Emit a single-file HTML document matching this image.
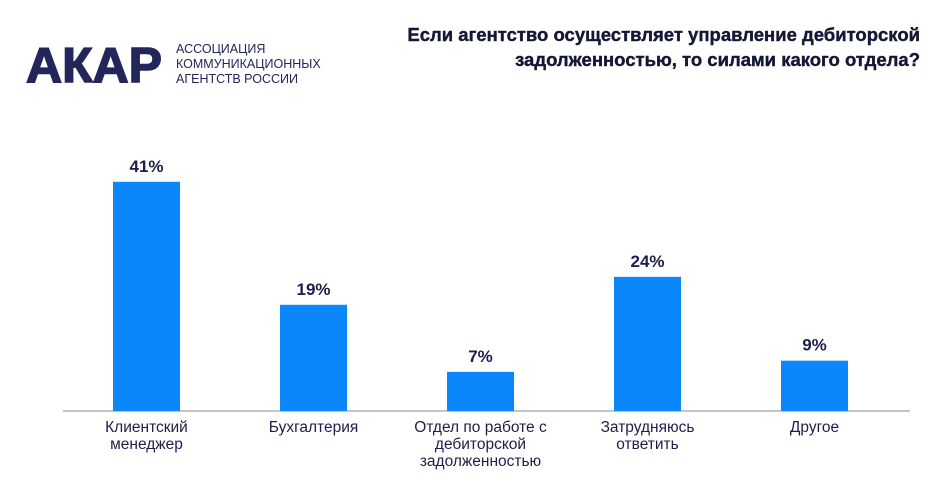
<!DOCTYPE html>
<html><head><meta charset="utf-8"><style>
body{margin:0;width:938px;height:482px;background:#fff;overflow:hidden;font-family:"Liberation Sans","DejaVu Sans",sans-serif;color:#1c1f4a}
svg{position:absolute;left:0;top:0}
</style></head><body>
<svg width="938" height="482">
<g>
<text x="26" y="82" font-size="49" font-weight="bold" fill="#23265a" stroke="#23265a" stroke-width="1.5" textLength="136" lengthAdjust="spacingAndGlyphs">АКАР</text>
<text x="176" y="53" font-size="12.5" fill="#23265a">АССОЦИАЦИЯ</text>
<text x="176" y="68" font-size="12.5" fill="#23265a">КОММУНИКАЦИОННЫХ</text>
<text x="176" y="83" font-size="12.5" fill="#23265a">АГЕНТСТВ РОССИИ</text>
</g>
<text x="920" y="41" font-size="18.5" font-weight="bold" text-anchor="end" fill="#141735" stroke="#141735" stroke-width="0.4">Если агентство осуществляет управление дебиторской</text>
<text x="920" y="66" font-size="18.5" font-weight="bold" text-anchor="end" fill="#141735" stroke="#141735" stroke-width="0.4">задолженностью, то силами какого отдела?</text>
<line x1="63" y1="411" x2="910" y2="411" stroke="#b0b0b8" stroke-width="1.5"/>
<g id="bars"></g>
</svg>
<script>
const categories=[["Клиентский","менеджер"],["Бухгалтерия"],["Отдел по работе с","дебиторской","задолженностью"],["Затрудняюсь","ответить"],["Другое"]];
const values=[41,19,7,24,9];
const valueLabels=["41%","19%","7%","24%","9%"];
const base=411, pxPer=5.59, x0=146.5, step=167, bw=67;
function xc(i){return x0+i*step;}
function y(v){return base-v*pxPer;}
const g=document.getElementById('bars');
const NS="http://www.w3.org/2000/svg";
values.forEach((v,i)=>{
  const r=document.createElementNS(NS,'rect');
  r.setAttribute('x',xc(i)-bw/2);r.setAttribute('y',y(v));
  r.setAttribute('width',bw);r.setAttribute('height',base-y(v));
  r.setAttribute('fill','#0a88fb');
  
  
  g.appendChild(r);
  const t=document.createElementNS(NS,'text');
  t.setAttribute('x',xc(i));t.setAttribute('y',y(v)-10);
  t.setAttribute('text-anchor','middle');t.setAttribute('font-size','17');
  t.setAttribute('font-weight','bold');t.setAttribute('fill','#1c1f4a');
  t.textContent=valueLabels[i];
  
  
  g.appendChild(t);
  categories[i].forEach((line,j)=>{
    const c=document.createElementNS(NS,'text');
    c.setAttribute('x',xc(i));c.setAttribute('y',432+j*17);
    c.setAttribute('text-anchor','middle');c.setAttribute('font-size','15.5');
    c.setAttribute('fill','#1c1f4a');
    c.textContent=line;
    
    
    g.appendChild(c);
  });
});
</script>
</body></html>
